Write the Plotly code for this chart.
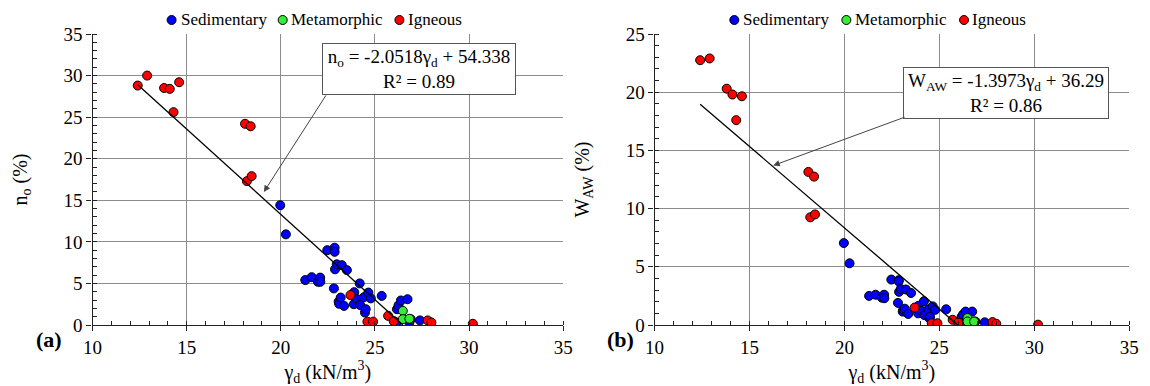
import plotly.graph_objects as go

# ---------------- data ----------------
sed_x = [19.97, 20.27, 21.30, 21.64, 21.97, 22.09, 22.10, 22.47, 22.82, 22.86, 22.86, 22.88,
         22.97, 23.07, 23.10, 23.18, 23.24, 23.36, 23.51, 23.88, 23.90, 24.07, 24.19, 24.22,
         24.42, 24.47, 24.51, 24.65, 24.78, 25.36, 26.06, 26.15, 26.17, 26.25, 26.38, 26.73,
         26.83, 26.90, 27.39]
sed_no = [14.4, 10.9, 5.4, 5.75, 5.2, 5.7, 5.2, 9.0, 4.4, 9.3, 8.8, 6.7,
          7.3, 2.8, 2.55, 3.3, 7.2, 2.3, 6.6, 2.5, 3.95, 3.1, 5.0, 2.4,
          3.35, 1.5, 1.9, 3.9, 3.2, 3.5, 0.4, 0.25, 1.9, 2.35, 2.95, 3.1,
          0.3, 0.7, 0.55]
sed_waw = [7.04, 5.3, 2.5, 2.6, 2.35, 2.6, 2.3, 3.9, 1.9, 3.85, 3.75, 2.85,
           3.1, 1.15, 1.3, 1.4, 3.05, 0.95, 2.75, 1.0, 1.65, 1.2, 2.05, 0.85,
           1.35, 0.6, 0.7, 1.6, 1.3, 1.35, 0.2, 0.1, 0.7, 0.9, 1.15, 1.15,
           0.15, 0.3, 0.23]

met_x = [26.48, 26.48, 26.83]
met_no = [1.7, 0.7, 0.75]
met_waw = [0.6, 0.3, 0.3]

ign_x = [12.4, 12.9, 13.8, 14.1, 14.6, 14.3, 18.1, 18.4, 18.2, 18.45,
         23.7, 24.6, 24.9, 25.7, 26.0, 27.8, 28.0, 30.2]
ign_no = [28.8, 30.0, 28.5, 28.4, 29.2, 25.6, 24.2, 23.9, 17.3, 17.9,
          3.6, 0.4, 0.4, 1.1, 0.45, 0.55, 0.3, 0.15]
ign_waw = [22.75, 22.9, 20.3, 19.8, 19.65, 17.6, 13.15, 12.75, 9.25, 9.5,
           1.5, 0.15, 0.15, 0.45, 0.2, 0.25, 0.1, 0.03]

trend_no = [-2.0518, 54.338]    # slope, intercept
trend_waw = [-1.3973, 36.29]

x_ticks = [10, 15, 20, 25, 30, 35]
series_names = ["Sedimentary", "Metamorphic", "Igneous"]
series_colors = ["#0000ff", "#33ee33", "#ff0000"]

# ---------------- layout constants ----------------
FONT = '"Liberation Serif", "Times New Roman", "DejaVu Serif", serif'
W, H = 1150, 386
TOP, BOT = 34, 325
dom_a = [84 / W, 563 / W]
dom_b = [656 / W, 1139 / W]
LEG_MARK_X = [14.2, 20.1, 26.3]     # legend symbol positions (x data units)
LEG_TEXT_X = [14.62, 20.5, 26.68]   # legend text start
LEG_Y = (BOT - 20) / (BOT - TOP)    # legend row (paper units)

fig = go.Figure()

data_a = [(sed_x, sed_no), (met_x, met_no), (ign_x, ign_no)]
data_b = [(sed_x, sed_waw), (met_x, met_waw), (ign_x, ign_waw)]
for (xs, ya_), (_, yb_), name, color in zip(data_a, data_b, series_names, series_colors):
    mk = dict(color=color, size=9, line=dict(color="black", width=1))
    fig.add_trace(go.Scatter(x=xs, y=ya_, mode="markers", name=name, marker=mk,
                             xaxis="x", yaxis="y", showlegend=False))
    fig.add_trace(go.Scatter(x=xs, y=yb_, mode="markers", name=name, marker=mk,
                             xaxis="x2", yaxis="y2", showlegend=False))

# trend lines (from data min x to where the line meets y = 0)
xmin = min(ign_x)
for (s, b), xa, ya in [(trend_no, "x", "y"), (trend_waw, "x2", "y2")]:
    x0, x1 = xmin, -b / s
    fig.add_trace(go.Scatter(x=[x0, x1], y=[s * x0 + b, s * x1 + b], mode="lines",
                             line=dict(color="black", width=1.3), showlegend=False,
                             xaxis=xa, yaxis=ya, hoverinfo="skip"))

# custom legends above each panel
for xa in ["x", "x2"]:
    for mx, tx, name, color in zip(LEG_MARK_X, LEG_TEXT_X, series_names, series_colors):
        fig.add_shape(type="circle", xref=xa, yref="paper",
                      xsizemode="pixel", ysizemode="pixel",
                      xanchor=mx, yanchor=LEG_Y, x0=-4.5, x1=4.5, y0=-4.5, y1=4.5,
                      fillcolor=color, line=dict(color="black", width=1), layer="above")
        fig.add_annotation(x=tx, y=LEG_Y, xref=xa, yref="paper", text=name, showarrow=False,
                           xanchor="left", yanchor="middle", borderpad=0,
                           font=dict(family=FONT, size=17, color="black"))

grid = "#8c8c8c"
TF = dict(family=FONT, size=19, color="black")
TT = dict(family=FONT, size=20, color="black")

def xaxis(domain, anchor):
    return dict(domain=domain, anchor=anchor, range=[10, 35], tickvals=x_ticks,
                showgrid=True, gridcolor=grid, gridwidth=1, zeroline=False,
                showline=True, linecolor="#222", linewidth=1.3,
                ticks="outside", ticklen=5, tickcolor="#222",
                minor=dict(dtick=1, ticks="inside", ticklen=4, tickcolor="#222", showgrid=False),
                tickfont=TF,
                title=dict(text="γ<sub>d</sub> (kN/m<sup>3</sup>)", font=TT, standoff=8),
                fixedrange=True)

def yaxis(anchor, top, title):
    return dict(domain=[0, 1], anchor=anchor, range=[0, top], dtick=5,
                showgrid=True, gridcolor=grid, gridwidth=1, zeroline=False,
                showline=True, linecolor="#222", linewidth=1.3,
                ticks="outside", ticklen=5, tickcolor="#222",
                minor=dict(dtick=1, ticks="inside", ticklen=4, tickcolor="#222", showgrid=False),
                tickfont=TF,
                title=dict(text=title, font=TT, standoff=30),
                fixedrange=True)

fig.update_layout(
    width=W, height=H,
    margin=dict(l=0, r=0, t=TOP, b=H - BOT),
    paper_bgcolor="white", plot_bgcolor="white",
    font=dict(family=FONT, size=18, color="black"),
    xaxis=xaxis(dom_a, "y"),
    yaxis=yaxis("x", 35, "n<sub>o</sub> (%)"),
    xaxis2=xaxis(dom_b, "y2"),
    yaxis2=yaxis("x2", 25, "W<sub>AW</sub> (%)"),
    showlegend=False,
)

ann_font = dict(family=FONT, size=19, color="black")
# equation boxes
fig.add_annotation(x=27.35, y=30.8, xref="x", yref="y", showarrow=False,
                   text="n<sub>o</sub> = -2.0518γ<sub>d</sub> + 54.338<br>R² = 0.89",
                   font=ann_font, bgcolor="white", bordercolor="#555", borderwidth=1,
                   width=190, height=48, align="center")
fig.add_annotation(x=28.5, y=19.95, xref="x2", yref="y2", showarrow=False,
                   text="W<sub>AW</sub> = -1.3973γ<sub>d</sub> + 36.29<br>R² = 0.86",
                   font=ann_font, bgcolor="white", bordercolor="#555", borderwidth=1,
                   width=202, height=48, align="center")
# arrows
fig.add_annotation(x=19.1, y=16.0, ax=22.45, ay=27.8, xref="x", yref="y",
                   axref="x", ayref="y", text="", showarrow=True,
                   arrowhead=2, arrowsize=1.3, arrowwidth=1, arrowcolor="#444")
fig.add_annotation(x=16.25, y=13.7, ax=23.25, ay=17.9, xref="x2", yref="y2",
                   axref="x2", ayref="y2", text="", showarrow=True,
                   arrowhead=2, arrowsize=1.3, arrowwidth=1, arrowcolor="#444")
# panel labels
fig.add_annotation(x=40 / W, y=(BOT - 354) / (BOT - TOP), xref="paper", yref="paper",
                   text="<b>(a)</b>", showarrow=False, xanchor="center",
                   font=dict(family=FONT, size=22, color="black"))
fig.add_annotation(x=621 / W, y=(BOT - 354) / (BOT - TOP), xref="paper", yref="paper",
                   text="<b>(b)</b>", showarrow=False, xanchor="center",
                   font=dict(family=FONT, size=22, color="black"))

fig.write_html("out.html")
